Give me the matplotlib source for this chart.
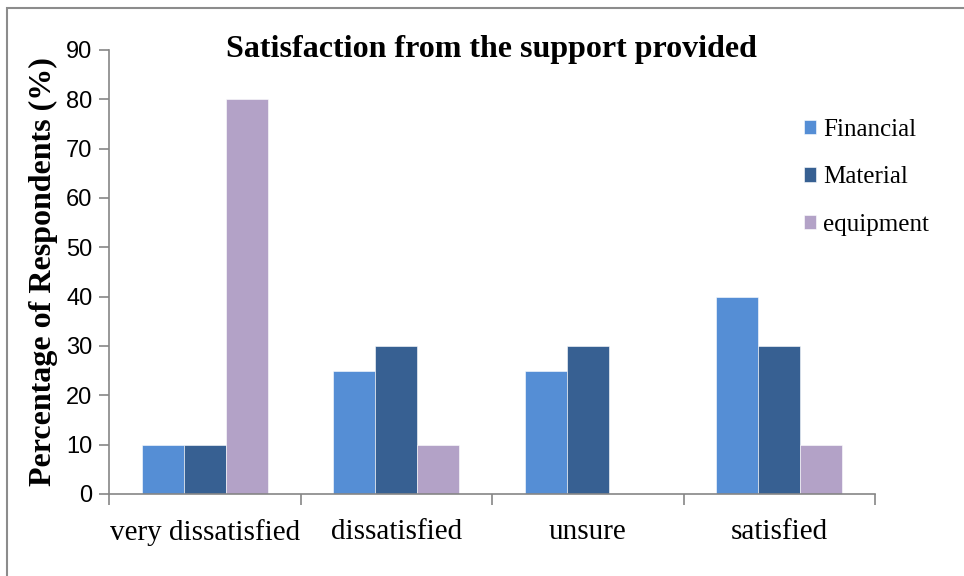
import matplotlib
matplotlib.use("Agg")
import matplotlib.pyplot as plt
from matplotlib.patches import Rectangle
import numpy as np

categories = ["very dissatisfied", "dissatisfied", "unsure", "satisfied"]
series_names = ["Financial", "Material", "equipment"]
financial = [10, 25, 25, 40]
material = [10, 30, 30, 30]
equipment = [80, 10, 0, 10]
y_ticks = [0, 10, 20, 30, 40, 50, 60, 70, 80, 90]

colors = ["#558ED5", "#376092", "#B3A2C7"]
serif = "Liberation Serif"
sans = "Liberation Sans"

W, H = 964, 576
fig = plt.figure(figsize=(W / 100, H / 100), dpi=100)

# outer chart frame (only top and left edges fall inside the canvas)
fig.patches.append(Rectangle((7 / W, -0.1), 1.2, 1.1 - 8 / H, transform=fig.transFigure,
                             fill=False, edgecolor="#8c8c8c", linewidth=1.5))

ax = fig.add_axes([109 / W, 82 / H, 766 / W, 444 / H])

x = np.arange(len(categories))
bw = 0.22
for i, (vals, name) in enumerate(zip([financial, material, equipment], series_names)):
    ax.bar(x + (i - 1) * bw, vals, width=bw, color=colors[i], label=name,
           edgecolor="white", linewidth=0.4)

ax.set_xlim(-0.5, len(categories) - 0.5)
ax.set_ylim(0, 90)
ax.set_yticks(y_ticks)
ax.set_yticklabels([str(t) for t in y_ticks], fontfamily=sans, fontsize=17)

ax.set_xticks(x)
ax.set_xticklabels(categories, fontfamily=serif, fontsize=21)
ax.tick_params(axis="x", which="major", length=0, pad=18)
ax.set_xticks(np.arange(-0.5, len(categories), 1.0), minor=True)
ax.tick_params(axis="x", which="minor", length=8, width=1.2, color="#868686", direction="out")
ax.tick_params(axis="y", length=7, width=1.2, color="#868686", direction="out", pad=5)

for s in ["top", "right"]:
    ax.spines[s].set_visible(False)
for s in ["left", "bottom"]:
    ax.spines[s].set_color("#868686")
    ax.spines[s].set_linewidth(1.2)

ax.set_ylabel("Percentage of Respondents (%)", fontfamily=serif, fontweight="bold",
              fontsize=23, labelpad=6)

fig.text(491 / W, 1 - 49 / H, "Satisfaction from the support provided", fontfamily=serif,
         fontweight="bold", fontsize=23, ha="center", va="center")

leg = ax.legend(loc="upper left", bbox_to_anchor=(781 / W, 1 - 96 / H),
                bbox_transform=fig.transFigure, frameon=False,
                prop={"family": serif, "size": 18}, handlelength=0.5, handleheight=0.5,
                handletextpad=0.3, labelspacing=1.03)

fig.savefig("out.png", dpi=100)
